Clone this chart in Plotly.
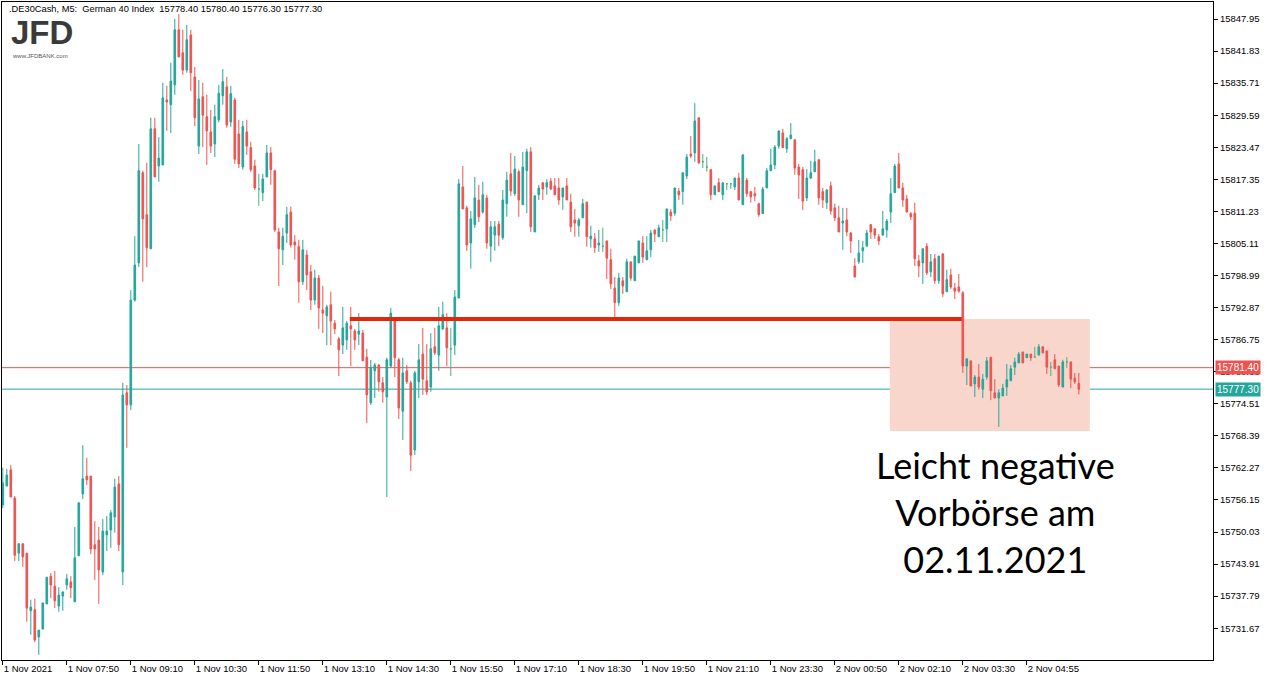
import plotly.graph_objects as go

# ---------------- data (M5 candles) ----------------
OPEN = [15755.2, 15758.8, 15761.9, 15756.5, 15746.0, 15747.8, 15746.0, 15735.0, 15735.2, 15730.0,
        15731.5, 15736.3, 15741.6, 15739.7, 15735.9, 15737.8, 15739.9, 15740.5, 15736.7, 15745.5,
        15757.3, 15760.7, 15760.7, 15747.6, 15748.5, 15742.4, 15749.5, 15750.4, 15752.9, 15759.2,
        15742.4, 15776.6, 15774.3, 15794.3, 15801.4, 15818.6, 15810.6, 15804.1, 15827.0, 15819.9,
        15820.1, 15832.5, 15831.6, 15835.4, 15845.9, 15841.5, 15838.2, 15844.9, 15836.9, 15823.7,
        15833.1, 15829.3, 15826.4, 15824.1, 15828.7, 15833.3, 15835.0, 15828.3, 15832.5, 15826.0,
        15819.7, 15826.4, 15823.4, 15819.9, 15815.5, 15814.8, 15817.8, 15822.4, 15819.0, 15807.3,
        15803.9, 15807.1, 15811.1, 15805.4, 15804.5, 15797.8, 15802.9, 15799.7, 15794.3, 15798.5,
        15792.4, 15791.3, 15793.4, 15789.9, 15786.9, 15785.7, 15786.7, 15789.4, 15788.4, 15787.8,
        15788.0, 15783.4, 15774.7, 15780.8, 15781.9, 15778.5, 15775.8, 15781.7, 15790.5, 15782.9,
        15773.1, 15780.8, 15778.5, 15765.7, 15778.7, 15784.0, 15778.9, 15777.7, 15785.4, 15783.8,
        15788.8, 15789.0, 15785.0, 15785.7, 15794.7, 15815.9, 15811.9, 15805.2, 15808.7, 15813.4,
        15811.1, 15813.8, 15804.6, 15806.7, 15808.8, 15806.2, 15812.7, 15818.4, 15814.6, 15818.8,
        15812.5, 15819.0, 15822.6, 15807.3, 15814.4, 15816.7, 15815.9, 15817.0, 15816.1, 15815.7,
        15814.0, 15816.1, 15813.0, 15809.6, 15808.5, 15810.0, 15813.0, 15806.0, 15806.0, 15804.8,
        15804.6, 15805.6, 15802.0, 15796.6, 15793.8, 15798.0, 15795.9, 15801.6, 15798.0, 15801.4,
        15805.2, 15802.0, 15803.9, 15807.7, 15806.4, 15807.7, 15807.9, 15811.1, 15810.9, 15815.1,
        15815.0, 15818.0, 15822.2, 15822.4, 15829.1, 15820.7, 15819.7, 15819.2, 15814.4, 15816.7,
        15814.4, 15816.5, 15816.5, 15815.9, 15817.6, 15812.5, 15817.2, 15815.0, 15814.6, 15812.7,
        15810.8, 15815.7, 15819.0, 15820.1, 15823.7, 15826.2, 15823.2, 15825.1, 15824.9, 15819.7,
        15819.2, 15813.8, 15817.6, 15818.8, 15821.1, 15815.0, 15812.9, 15816.1, 15811.9, 15810.0,
        15809.0, 15809.6, 15807.1, 15800.8, 15801.6, 15803.7, 15804.6, 15808.7, 15807.9, 15806.4,
        15806.7, 15807.7, 15811.1, 15814.8, 15820.3, 15815.7, 15813.6, 15810.8, 15810.9, 15801.8,
        15801.4, 15804.6, 15799.7, 15802.2, 15798.0, 15803.1, 15795.9, 15799.1, 15796.6, 15796.8,
        15795.7, 15781.7, 15782.7, 15778.3, 15779.6, 15777.3, 15779.6, 15783.4, 15776.6, 15775.6,
        15776.0, 15777.7, 15778.9, 15781.5, 15782.3, 15784.4, 15783.3, 15784.0, 15783.4, 15783.8,
        15785.4, 15784.6, 15781.5, 15782.9, 15781.7, 15777.7, 15782.5, 15782.5, 15779.4, 15778.4]

HIGH = [15762.3, 15762.1, 15762.8, 15756.9, 15747.8, 15747.8, 15746.0, 15737.1, 15737.3, 15731.3,
        15736.5, 15741.4, 15742.2, 15742.6, 15739.5, 15738.6, 15742.0, 15741.6, 15751.0, 15755.6,
        15766.6, 15764.2, 15760.7, 15752.1, 15751.0, 15752.5, 15753.1, 15754.2, 15760.2, 15760.7,
        15778.5, 15778.1, 15796.2, 15806.5, 15824.1, 15819.0, 15820.5, 15829.1, 15829.1, 15825.4,
        15835.8, 15835.2, 15839.6, 15848.0, 15848.9, 15845.9, 15846.8, 15845.9, 15838.8, 15836.3,
        15835.8, 15833.5, 15830.6, 15831.6, 15835.4, 15838.4, 15836.9, 15835.2, 15832.9, 15828.7,
        15828.5, 15828.7, 15824.5, 15821.1, 15818.4, 15818.4, 15823.9, 15823.5, 15819.2, 15808.1,
        15808.1, 15812.1, 15812.1, 15806.7, 15805.8, 15805.8, 15803.9, 15801.0, 15800.1, 15799.1,
        15797.0, 15793.4, 15795.9, 15790.5, 15787.3, 15793.0, 15790.3, 15793.0, 15788.8, 15791.8,
        15788.6, 15785.0, 15782.9, 15782.3, 15782.1, 15779.6, 15783.3, 15792.8, 15790.9, 15783.3,
        15783.3, 15781.9, 15778.9, 15780.8, 15785.9, 15789.0, 15785.9, 15788.0, 15789.0, 15793.0,
        15794.0, 15791.8, 15789.0, 15796.2, 15817.4, 15819.9, 15812.3, 15811.3, 15817.8, 15816.3,
        15816.9, 15814.4, 15809.4, 15809.4, 15809.4, 15815.3, 15818.8, 15822.4, 15821.8, 15819.2,
        15822.6, 15823.2, 15823.5, 15814.2, 15816.3, 15816.7, 15817.4, 15817.6, 15817.6, 15817.6,
        15815.7, 15817.6, 15814.6, 15811.7, 15810.0, 15813.6, 15813.0, 15808.5, 15807.1, 15807.7,
        15808.1, 15805.6, 15804.1, 15798.7, 15799.5, 15798.7, 15802.2, 15801.6, 15802.7, 15805.6,
        15806.5, 15806.5, 15807.7, 15807.7, 15808.7, 15809.6, 15811.7, 15811.7, 15815.7, 15815.7,
        15818.6, 15822.2, 15825.6, 15831.9, 15829.1, 15822.2, 15821.6, 15819.2, 15816.1, 15817.6,
        15816.7, 15816.5, 15816.5, 15817.6, 15818.6, 15822.2, 15817.6, 15815.1, 15815.9, 15812.9,
        15815.9, 15819.5, 15823.2, 15823.9, 15826.6, 15827.0, 15825.4, 15828.1, 15824.9, 15820.3,
        15819.7, 15819.3, 15820.9, 15823.0, 15821.1, 15815.7, 15815.5, 15816.9, 15812.7, 15812.3,
        15811.9, 15811.9, 15807.3, 15802.3, 15805.8, 15805.6, 15807.7, 15808.7, 15807.9, 15806.9,
        15811.3, 15809.8, 15817.6, 15820.3, 15822.4, 15816.7, 15814.4, 15811.1, 15812.9, 15802.9,
        15804.1, 15805.2, 15803.1, 15803.1, 15802.7, 15803.3, 15800.1, 15800.3, 15797.6, 15799.3,
        15796.0, 15783.1, 15782.7, 15780.0, 15782.1, 15780.2, 15783.4, 15783.4, 15779.2, 15777.3,
        15778.3, 15782.1, 15781.9, 15783.3, 15784.4, 15784.4, 15784.0, 15784.0, 15785.4, 15785.9,
        15785.4, 15784.6, 15782.5, 15784.0, 15781.7, 15782.9, 15783.4, 15782.5, 15780.4, 15780.4]

LOW = [15754.6, 15758.8, 15756.7, 15744.5, 15744.5, 15743.4, 15732.9, 15730.4, 15729.0, 15726.6,
       15731.5, 15736.3, 15737.4, 15735.5, 15734.8, 15735.0, 15739.0, 15737.4, 15736.7, 15745.5,
       15756.3, 15759.0, 15745.8, 15740.9, 15736.3, 15741.8, 15746.4, 15747.0, 15749.9, 15746.4,
       15739.9, 15766.1, 15773.3, 15794.0, 15800.6, 15797.8, 15800.6, 15804.1, 15817.8, 15816.9,
       15820.1, 15826.6, 15826.2, 15833.5, 15840.7, 15837.3, 15837.7, 15834.2, 15827.5, 15822.2,
       15823.5, 15820.1, 15822.4, 15821.6, 15828.3, 15831.6, 15827.2, 15827.4, 15820.3, 15819.5,
       15819.2, 15822.0, 15818.8, 15815.3, 15812.3, 15813.2, 15817.8, 15816.3, 15807.3, 15797.0,
       15801.0, 15805.2, 15804.3, 15802.0, 15793.8, 15797.2, 15796.2, 15792.4, 15793.4, 15788.8,
       15788.0, 15785.7, 15785.7, 15787.8, 15779.8, 15784.0, 15784.8, 15781.7, 15784.8, 15785.7,
       15782.7, 15770.8, 15774.3, 15775.6, 15776.8, 15774.7, 15756.7, 15781.3, 15779.6, 15771.6,
       15767.6, 15778.3, 15761.7, 15764.7, 15775.6, 15776.2, 15776.2, 15776.8, 15783.8, 15780.8,
       15788.6, 15781.7, 15779.8, 15783.8, 15794.7, 15811.7, 15803.7, 15800.3, 15808.1, 15809.2,
       15810.8, 15804.1, 15801.6, 15803.7, 15804.6, 15805.8, 15810.2, 15814.2, 15814.2, 15810.2,
       15812.5, 15810.9, 15807.3, 15807.3, 15813.4, 15813.4, 15814.4, 15815.3, 15814.4, 15812.5,
       15811.5, 15813.4, 15807.3, 15806.4, 15806.4, 15810.0, 15804.5, 15804.3, 15803.3, 15803.5,
       15803.5, 15798.3, 15796.4, 15790.5, 15793.2, 15795.5, 15795.9, 15798.0, 15798.0, 15801.4,
       15801.4, 15802.0, 15802.5, 15805.4, 15806.4, 15805.4, 15805.4, 15809.4, 15810.4, 15813.4,
       15812.5, 15817.4, 15821.4, 15820.7, 15820.3, 15819.5, 15818.8, 15813.4, 15814.4, 15815.0,
       15813.4, 15815.3, 15815.5, 15815.3, 15813.4, 15812.5, 15814.0, 15812.9, 15813.2, 15810.2,
       15810.8, 15815.7, 15819.0, 15819.3, 15823.2, 15823.4, 15822.4, 15825.1, 15818.2, 15813.6,
       15811.5, 15813.2, 15817.4, 15818.8, 15812.5, 15811.9, 15811.7, 15810.6, 15809.4, 15807.3,
       15803.9, 15806.5, 15803.3, 15798.7, 15801.2, 15801.4, 15804.6, 15806.0, 15806.0, 15804.8,
       15806.7, 15806.2, 15809.0, 15814.8, 15815.7, 15812.1, 15811.1, 15809.6, 15800.8, 15798.7,
       15797.4, 15799.1, 15798.7, 15797.4, 15797.4, 15794.9, 15795.9, 15796.4, 15794.5, 15795.7,
       15780.4, 15778.1, 15777.9, 15775.8, 15777.2, 15775.6, 15779.1, 15775.2, 15775.6, 15770.1,
       15776.0, 15776.0, 15778.9, 15780.0, 15782.3, 15782.3, 15783.3, 15782.7, 15783.4, 15783.8,
       15784.2, 15780.2, 15779.8, 15781.2, 15777.7, 15777.7, 15781.3, 15777.5, 15778.3, 15776.3]

CLOSE = [15759.4, 15760.9, 15756.7, 15745.6, 15747.8, 15745.3, 15735.5, 15735.7, 15729.4, 15731.3,
         15736.5, 15741.4, 15739.9, 15736.9, 15738.0, 15738.6, 15741.1, 15739.4, 15745.1, 15755.6,
         15760.2, 15760.0, 15746.8, 15746.8, 15742.8, 15750.2, 15750.2, 15753.7, 15758.6, 15747.6,
         15776.2, 15774.3, 15794.3, 15801.0, 15819.0, 15809.8, 15804.3, 15827.0, 15817.8, 15821.4,
         15832.9, 15832.1, 15836.1, 15845.9, 15840.7, 15838.2, 15844.0, 15837.7, 15829.1, 15832.7,
         15829.6, 15826.6, 15823.7, 15829.3, 15833.8, 15836.0, 15827.7, 15833.7, 15821.2, 15820.3,
         15827.4, 15823.7, 15819.2, 15815.7, 15815.5, 15817.4, 15822.4, 15819.2, 15807.7, 15804.1,
         15806.5, 15810.6, 15804.8, 15804.8, 15797.8, 15803.9, 15799.1, 15794.3, 15798.5, 15792.8,
         15791.8, 15793.0, 15790.3, 15788.8, 15784.8, 15789.0, 15789.9, 15788.8, 15786.7, 15788.4,
         15782.7, 15776.2, 15781.5, 15781.9, 15778.7, 15776.8, 15782.9, 15791.8, 15783.3, 15773.7,
         15780.4, 15778.7, 15764.7, 15780.4, 15782.9, 15779.2, 15776.8, 15785.0, 15784.2, 15789.4,
         15791.5, 15785.2, 15785.0, 15794.9, 15816.5, 15811.7, 15804.8, 15809.8, 15813.8, 15810.2,
         15814.4, 15805.2, 15808.3, 15808.3, 15806.7, 15813.4, 15817.2, 15815.1, 15819.3, 15813.4,
         15819.7, 15822.6, 15808.3, 15814.2, 15815.7, 15815.5, 15816.7, 15815.5, 15814.4, 15813.4,
         15815.7, 15813.4, 15808.3, 15809.0, 15809.6, 15812.7, 15806.4, 15806.5, 15804.3, 15805.2,
         15804.6, 15802.3, 15797.4, 15793.8, 15798.5, 15797.0, 15801.6, 15798.5, 15802.7, 15805.6,
         15802.5, 15803.7, 15807.1, 15806.9, 15808.1, 15807.7, 15811.7, 15810.4, 15815.7, 15814.4,
         15818.6, 15821.6, 15821.8, 15828.5, 15820.5, 15820.7, 15819.7, 15814.4, 15816.1, 15815.0,
         15816.7, 15816.5, 15816.5, 15817.6, 15813.4, 15822.0, 15814.6, 15814.0, 15814.2, 15810.6,
         15815.5, 15819.0, 15820.1, 15823.5, 15826.6, 15823.4, 15825.1, 15825.8, 15819.5, 15818.2,
         15813.2, 15817.6, 15818.6, 15820.7, 15813.8, 15813.4, 15815.3, 15811.3, 15810.0, 15807.3,
         15809.4, 15807.3, 15805.6, 15798.7, 15803.3, 15804.3, 15807.1, 15807.3, 15806.7, 15805.6,
         15807.9, 15809.4, 15814.6, 15819.9, 15815.7, 15813.4, 15811.1, 15810.2, 15802.2, 15800.8,
         15804.1, 15799.5, 15801.6, 15798.0, 15802.7, 15795.5, 15798.2, 15796.8, 15796.0, 15796.0,
         15781.7, 15783.1, 15777.9, 15779.6, 15777.7, 15779.2, 15782.7, 15777.0, 15775.6, 15776.6,
         15777.5, 15779.1, 15781.2, 15782.5, 15784.0, 15782.3, 15784.0, 15783.3, 15783.4, 15785.4,
         15784.2, 15781.5, 15781.5, 15781.2, 15778.1, 15782.5, 15782.5, 15779.2, 15778.7, 15777.3]

TICK_LABELS = ["1 Nov 2021", "1 Nov 07:50", "1 Nov 09:10", "1 Nov 10:30", "1 Nov 11:50",
               "1 Nov 13:10", "1 Nov 14:30", "1 Nov 15:50", "1 Nov 17:10", "1 Nov 18:30",
               "1 Nov 19:50", "1 Nov 21:10", "1 Nov 23:30", "2 Nov 00:50", "2 Nov 02:10",
               "2 Nov 03:30", "2 Nov 04:55"]
TICK_STEP = 16  # one time label every 16 bars

Y_TICKS = [15847.95, 15841.83, 15835.71, 15829.59, 15823.47, 15817.35, 15811.23, 15805.11,
           15798.99, 15792.87, 15786.75, 15780.63, 15774.51, 15768.39, 15762.27, 15756.15,
           15750.03, 15743.91, 15737.79, 15731.67]

ASK = 15781.40
BID = 15777.30
LEVEL = 15790.7              # broken support line
LEVEL_FROM_BAR, LEVEL_TO_BAR = 86.75, 239.75
ZONE_BARS = (221.75, 271.75)
ZONE_PRICES = (15769.3, 15790.7)

HEADER = ".DE30Cash, M5:  German 40 Index  15778.40 15780.40 15776.30 15777.30"
NOTE = "Leicht negative<br>Vorbörse am<br>02.11.2021"

# ---------------- figure ----------------
UP = "#26A69A"
DOWN = "#EF5350"
DOJI = "#4CAF80"

n = len(OPEN)
idx = list(range(n))
normal = [i for i in idx if OPEN[i] != CLOSE[i]]
doji = [i for i in idx if OPEN[i] == CLOSE[i]]

def pick(arr, ids):
    return [arr[i] for i in ids]

fig = go.Figure()
fig.add_trace(go.Candlestick(
    x=normal, open=pick(OPEN, normal), high=pick(HIGH, normal),
    low=pick(LOW, normal), close=pick(CLOSE, normal),
    increasing=dict(line=dict(color=UP, width=1), fillcolor=UP),
    decreasing=dict(line=dict(color=DOWN, width=1), fillcolor=DOWN),
    whiskerwidth=0, showlegend=False, name=""))
fig.add_trace(go.Candlestick(
    x=doji, open=pick(OPEN, doji), high=pick(HIGH, doji),
    low=pick(LOW, doji), close=pick(CLOSE, doji),
    increasing=dict(line=dict(color=DOJI, width=1), fillcolor=DOJI),
    decreasing=dict(line=dict(color=DOJI, width=1), fillcolor=DOJI),
    whiskerwidth=0, showlegend=False, name=""))

shapes = [
    dict(type="rect", xref="x", yref="y", x0=ZONE_BARS[0], x1=ZONE_BARS[1],
         y0=ZONE_PRICES[0], y1=ZONE_PRICES[1], fillcolor="#F8D6CC",
         line=dict(width=0), layer="below"),
    dict(type="line", xref="paper", yref="y", x0=0, x1=1, y0=ASK, y1=ASK,
         line=dict(color=DOWN, width=1), layer="below"),
    dict(type="line", xref="paper", yref="y", x0=0, x1=1, y0=BID, y1=BID,
         line=dict(color=UP, width=1), layer="below"),
    dict(type="line", xref="x", yref="y", x0=LEVEL_FROM_BAR, x1=LEVEL_TO_BAR,
         y0=LEVEL, y1=LEVEL, line=dict(color="#E3260A", width=4), layer="above"),
]

W, H = 1272, 681
ML, MR, MT, MB = 2, 59, 2, 21
pw, ph = W - ML - MR, H - MT - MB

def px_x(px):
    return (px - ML) / pw

def px_y(py):
    return (H - MB - py) / ph

annotations = [
    dict(xref="paper", yref="paper", x=px_x(7), y=px_y(9), xanchor="left", yanchor="middle",
         text=HEADER, showarrow=False, font=dict(family="Liberation Sans", size=9.3, color="#000")),
    dict(xref="paper", yref="paper", x=px_x(9), y=px_y(33), xanchor="left", yanchor="middle",
         text="<b>JFD</b>", showarrow=False,
         font=dict(family="Liberation Sans", size=33, color="#3A3A3A")),
    dict(xref="paper", yref="paper", x=px_x(10), y=px_y(56), xanchor="left", yanchor="middle",
         text="www.JFDBANK.com", showarrow=False,
         font=dict(family="Liberation Sans", size=6, color="#555")),
    dict(xref="paper", yref="paper", x=px_x(995), y=px_y(512), xanchor="center", yanchor="middle",
         text=NOTE, showarrow=False, align="center",
         font=dict(family="Lato", size=36, color="#000")),
    dict(xref="paper", yref="y", x=1, y=ASK, xanchor="left", yanchor="middle", xshift=2,
         text="15781.40", showarrow=False, bgcolor=DOWN, borderpad=1,
         font=dict(family="Liberation Sans", size=10, color="#fff")),
    dict(xref="paper", yref="y", x=1, y=BID, xanchor="left", yanchor="middle", xshift=2,
         text="15777.30", showarrow=False, bgcolor=UP, borderpad=1,
         font=dict(family="Liberation Sans", size=10, color="#fff")),
]

x_left = -0.2
x_right = x_left + pw / 4.0

fig.update_layout(
    width=W, height=H, margin=dict(l=ML, r=MR, t=MT, b=MB, autoexpand=False),
    paper_bgcolor="white", plot_bgcolor="white",
    boxgap=0.42, showlegend=False,
    shapes=shapes, annotations=annotations,
    font=dict(family="Liberation Sans", size=9, color="#000"),
    xaxis=dict(range=[x_left, x_right], rangeslider=dict(visible=False),
               tickvals=[i * TICK_STEP for i in range(len(TICK_LABELS))],
               ticktext=TICK_LABELS, ticks="outside", ticklen=4, tickcolor="#000",
               ticklabelposition="outside right", automargin=False,
               showline=True, linecolor="#000", linewidth=1, mirror=True,
               showgrid=False, zeroline=False, tickfont=dict(size=9.5)),
    yaxis=dict(range=[15725.6, 15851.2], side="right", tickvals=Y_TICKS,
               ticktext=[f"{v:.2f}" for v in Y_TICKS], ticks="outside", ticklen=4,
               tickcolor="#000", showline=True, linecolor="#000", linewidth=1, mirror=True,
               automargin=False,
               showgrid=False, zeroline=False, tickfont=dict(size=9.5)),
)

fig.write_html(
    "out.html",
    config={"displayModeBar": False},
    post_script="document.body.style.margin='0';document.body.style.overflow='hidden';",
)
